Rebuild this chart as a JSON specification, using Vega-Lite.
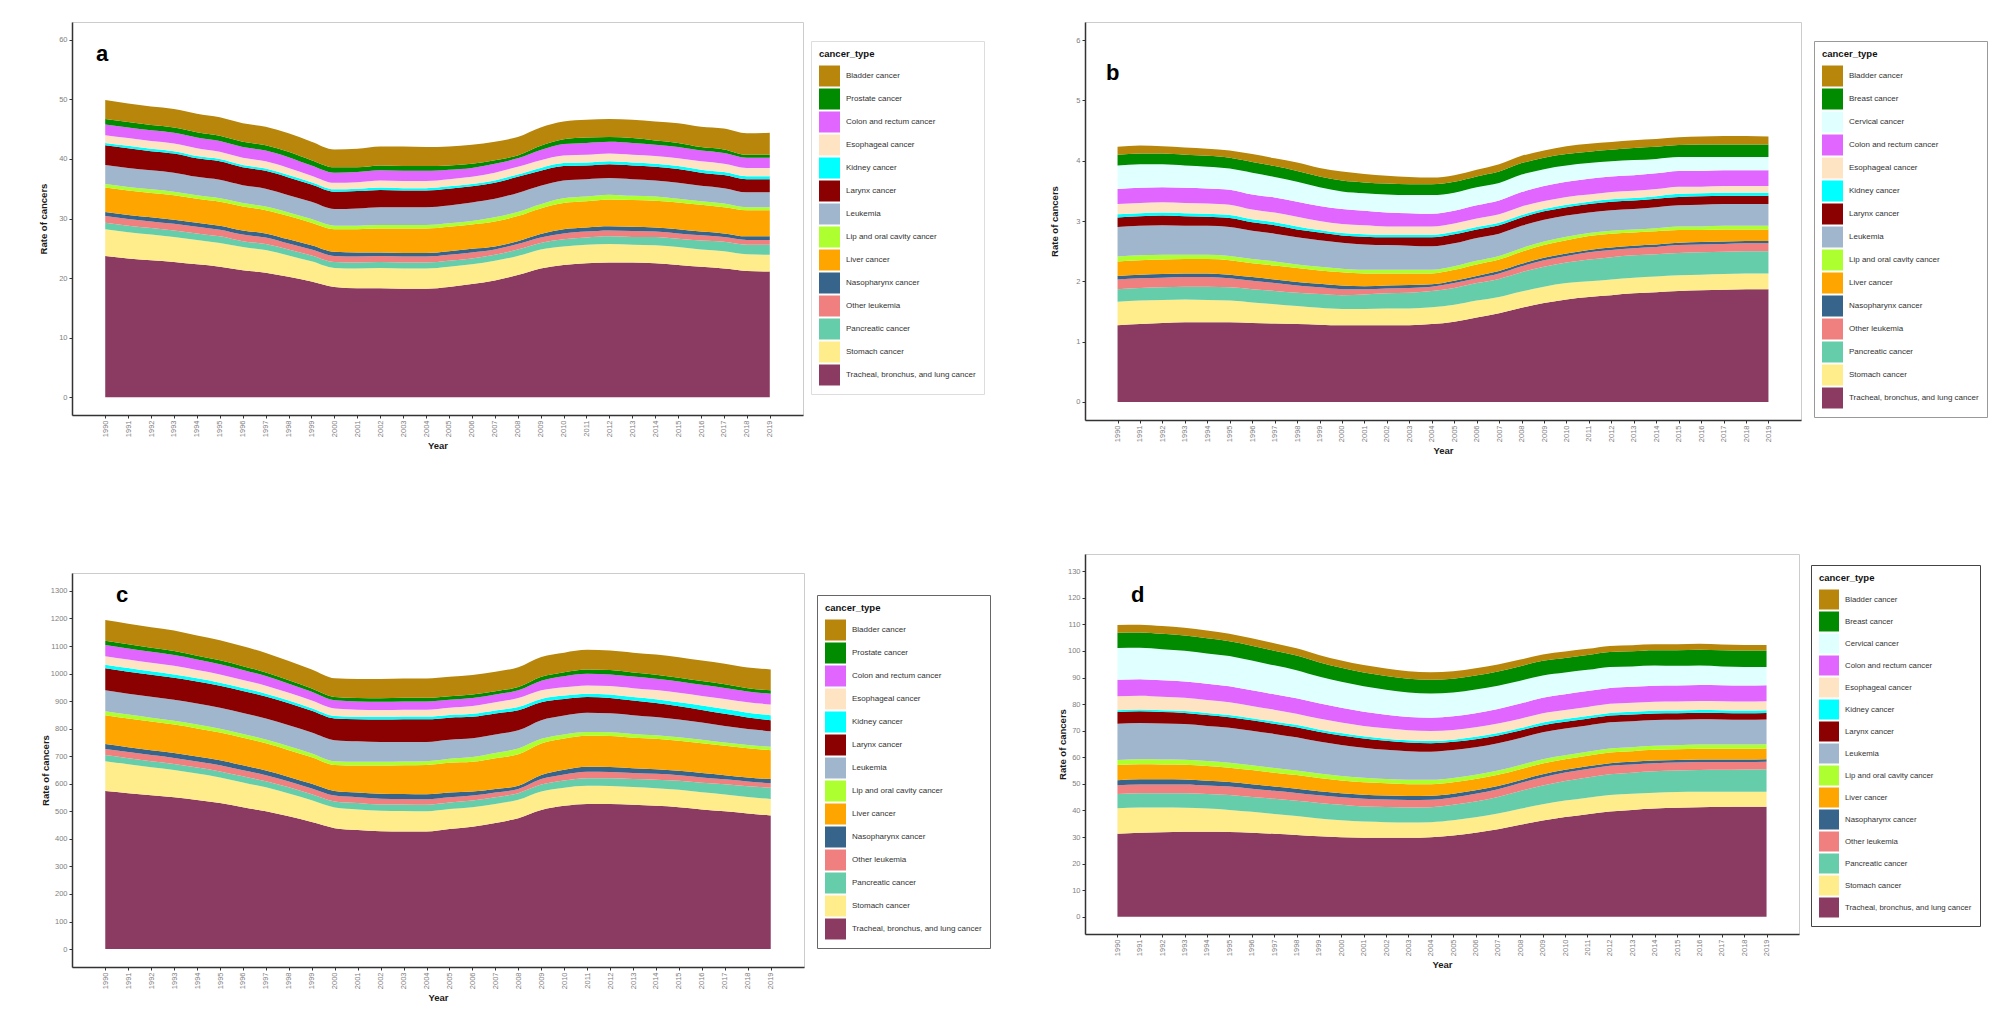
{
"$schema": "https://vega.github.io/schema/vega-lite/v6.json",
"background": "white",
"padding": {"left": 37, "top": 21, "right": 5, "bottom": 5},
"datasets": {
"types": [
{"code":"BL","cancer_type":"Bladder cancer","k":0},
{"code":"PR","cancer_type":"  Prostate cancer","k":1},
{"code":"BR","cancer_type":"Breast cancer","k":2},
{"code":"CE","cancer_type":"Cervical cancer","k":3},
{"code":"CO","cancer_type":"Colon and rectum cancer","k":4},
{"code":"ES","cancer_type":"Esophageal cancer","k":5},
{"code":"KI","cancer_type":"Kidney cancer","k":6},
{"code":"LA","cancer_type":"Larynx cancer","k":7},
{"code":"LE","cancer_type":"Leukemia","k":8},
{"code":"LP","cancer_type":"Lip and oral cavity cancer","k":9},
{"code":"LI","cancer_type":"Liver cancer","k":10},
{"code":"NA","cancer_type":"Nasopharynx cancer","k":11},
{"code":"OL","cancer_type":"Other leukemia","k":12},
{"code":"PA","cancer_type":"Pancreatic cancer","k":13},
{"code":"ST","cancer_type":"Stomach cancer","k":14},
{"code":"TR","cancer_type":"Tracheal, bronchus, and lung cancer","k":15}
],
"a": [
{"year":1990,"TR":23.7,"ST":4.5,"PA":1.1,"OL":1.1,"NA":0.7,"LI":4.1,"LP":0.6,"LE":3.2,"LA":3.3,"KI":0.4,"ES":1.3,"CO":1.8,"PR":0.9,"BL":3.2},
{"year":1991,"TR":23.3,"ST":4.4,"PA":1.1,"OL":1.1,"NA":0.7,"LI":4.1,"LP":0.6,"LE":3.2,"LA":3.3,"KI":0.4,"ES":1.3,"CO":1.8,"PR":0.9,"BL":3.1},
{"year":1992,"TR":23.0,"ST":4.3,"PA":1.1,"OL":1.1,"NA":0.7,"LI":4.1,"LP":0.6,"LE":3.2,"LA":3.2,"KI":0.4,"ES":1.3,"CO":1.8,"PR":0.9,"BL":3.1},
{"year":1993,"TR":22.7,"ST":4.2,"PA":1.1,"OL":1.1,"NA":0.7,"LI":4.1,"LP":0.6,"LE":3.2,"LA":3.2,"KI":0.4,"ES":1.3,"CO":1.8,"PR":0.9,"BL":3.1},
{"year":1994,"TR":22.3,"ST":4.1,"PA":1.1,"OL":1.1,"NA":0.7,"LI":4.0,"LP":0.6,"LE":3.1,"LA":3.1,"KI":0.4,"ES":1.3,"CO":1.8,"PR":0.9,"BL":3.1},
{"year":1995,"TR":21.9,"ST":4.0,"PA":1.1,"OL":1.1,"NA":0.7,"LI":4.0,"LP":0.6,"LE":3.1,"LA":3.1,"KI":0.4,"ES":1.2,"CO":1.8,"PR":0.9,"BL":3.1},
{"year":1996,"TR":21.3,"ST":3.9,"PA":1.0,"OL":1.1,"NA":0.7,"LI":4.0,"LP":0.6,"LE":3.0,"LA":3.0,"KI":0.4,"ES":1.2,"CO":1.8,"PR":0.9,"BL":3.1},
{"year":1997,"TR":20.9,"ST":3.8,"PA":1.0,"OL":1.1,"NA":0.7,"LI":3.9,"LP":0.6,"LE":3.0,"LA":3.0,"KI":0.4,"ES":1.2,"CO":1.8,"PR":0.9,"BL":3.1},
{"year":1998,"TR":20.2,"ST":3.6,"PA":1.0,"OL":1.0,"NA":0.7,"LI":3.9,"LP":0.6,"LE":2.9,"LA":3.0,"KI":0.4,"ES":1.2,"CO":1.8,"PR":0.9,"BL":3.1},
{"year":1999,"TR":19.4,"ST":3.4,"PA":1.0,"OL":1.0,"NA":0.7,"LI":3.8,"LP":0.6,"LE":2.9,"LA":2.9,"KI":0.4,"ES":1.1,"CO":1.7,"PR":0.9,"BL":3.1},
{"year":2000,"TR":18.5,"ST":3.2,"PA":1.0,"OL":1.0,"NA":0.7,"LI":3.8,"LP":0.6,"LE":2.8,"LA":2.9,"KI":0.4,"ES":1.1,"CO":1.7,"PR":0.9,"BL":3.0},
{"year":2001,"TR":18.3,"ST":3.3,"PA":1.0,"OL":1.0,"NA":0.7,"LI":3.9,"LP":0.6,"LE":2.9,"LA":2.9,"KI":0.4,"ES":1.1,"CO":1.7,"PR":0.8,"BL":3.1},
{"year":2002,"TR":18.3,"ST":3.4,"PA":1.0,"OL":1.0,"NA":0.6,"LI":4.0,"LP":0.6,"LE":3.0,"LA":2.9,"KI":0.4,"ES":1.2,"CO":1.7,"PR":0.8,"BL":3.2},
{"year":2003,"TR":18.2,"ST":3.4,"PA":1.0,"OL":1.0,"NA":0.6,"LI":4.1,"LP":0.6,"LE":3.0,"LA":2.8,"KI":0.4,"ES":1.2,"CO":1.7,"PR":0.8,"BL":3.3},
{"year":2004,"TR":18.2,"ST":3.4,"PA":1.0,"OL":1.0,"NA":0.6,"LI":4.1,"LP":0.6,"LE":3.0,"LA":2.8,"KI":0.4,"ES":1.2,"CO":1.7,"PR":0.8,"BL":3.2},
{"year":2005,"TR":18.5,"ST":3.4,"PA":1.0,"OL":1.0,"NA":0.6,"LI":4.1,"LP":0.6,"LE":3.0,"LA":2.8,"KI":0.4,"ES":1.2,"CO":1.6,"PR":0.7,"BL":3.2},
{"year":2006,"TR":19.0,"ST":3.3,"PA":1.0,"OL":1.0,"NA":0.6,"LI":4.1,"LP":0.6,"LE":3.1,"LA":2.7,"KI":0.4,"ES":1.2,"CO":1.5,"PR":0.7,"BL":3.2},
{"year":2007,"TR":19.6,"ST":3.3,"PA":1.0,"OL":0.9,"NA":0.5,"LI":4.2,"LP":0.7,"LE":3.1,"LA":2.7,"KI":0.4,"ES":1.3,"CO":1.5,"PR":0.6,"BL":3.1},
{"year":2008,"TR":20.5,"ST":3.2,"PA":1.1,"OL":0.9,"NA":0.5,"LI":4.2,"LP":0.7,"LE":3.2,"LA":2.7,"KI":0.4,"ES":1.3,"CO":1.4,"PR":0.5,"BL":3.1},
{"year":2009,"TR":21.6,"ST":3.2,"PA":1.1,"OL":0.9,"NA":0.6,"LI":4.3,"LP":0.7,"LE":3.1,"LA":2.5,"KI":0.5,"ES":1.3,"CO":1.7,"PR":0.7,"BL":3.1},
{"year":2010,"TR":22.2,"ST":3.1,"PA":1.2,"OL":1.0,"NA":0.7,"LI":4.4,"LP":0.8,"LE":3.0,"LA":2.4,"KI":0.5,"ES":1.3,"CO":1.9,"PR":0.8,"BL":3.0},
{"year":2011,"TR":22.5,"ST":3.1,"PA":1.2,"OL":1.0,"NA":0.7,"LI":4.4,"LP":0.8,"LE":2.9,"LA":2.3,"KI":0.5,"ES":1.3,"CO":2.0,"PR":0.9,"BL":3.0},
{"year":2012,"TR":22.6,"ST":3.1,"PA":1.3,"OL":1.0,"NA":0.7,"LI":4.5,"LP":0.8,"LE":2.8,"LA":2.3,"KI":0.5,"ES":1.3,"CO":2.0,"PR":0.8,"BL":3.0},
{"year":2013,"TR":22.6,"ST":3.0,"PA":1.3,"OL":1.0,"NA":0.7,"LI":4.5,"LP":0.7,"LE":2.8,"LA":2.3,"KI":0.5,"ES":1.3,"CO":2.0,"PR":0.8,"BL":3.1},
{"year":2014,"TR":22.5,"ST":3.0,"PA":1.4,"OL":0.9,"NA":0.7,"LI":4.5,"LP":0.7,"LE":2.7,"LA":2.3,"KI":0.5,"ES":1.3,"CO":1.9,"PR":0.7,"BL":3.2},
{"year":2015,"TR":22.2,"ST":3.0,"PA":1.4,"OL":0.9,"NA":0.7,"LI":4.5,"LP":0.6,"LE":2.7,"LA":2.3,"KI":0.5,"ES":1.3,"CO":1.9,"PR":0.7,"BL":3.3},
{"year":2016,"TR":21.9,"ST":2.9,"PA":1.5,"OL":0.9,"NA":0.6,"LI":4.5,"LP":0.6,"LE":2.6,"LA":2.2,"KI":0.5,"ES":1.4,"CO":1.8,"PR":0.6,"BL":3.4},
{"year":2017,"TR":21.6,"ST":2.9,"PA":1.6,"OL":0.8,"NA":0.6,"LI":4.4,"LP":0.6,"LE":2.6,"LA":2.2,"KI":0.5,"ES":1.4,"CO":1.8,"PR":0.6,"BL":3.5},
{"year":2018,"TR":21.2,"ST":2.8,"PA":1.6,"OL":0.8,"NA":0.6,"LI":4.4,"LP":0.5,"LE":2.5,"LA":2.2,"KI":0.5,"ES":1.4,"CO":1.7,"PR":0.5,"BL":3.6},
{"year":2019,"TR":21.1,"ST":2.8,"PA":1.7,"OL":0.8,"NA":0.6,"LI":4.4,"LP":0.5,"LE":2.5,"LA":2.2,"KI":0.5,"ES":1.4,"CO":1.7,"PR":0.5,"BL":3.7}
],
"b": [
{"year":1990,"TR":1.27,"ST":0.39,"PA":0.21,"OL":0.16,"NA":0.06,"LI":0.24,"LP":0.08,"LE":0.49,"LA":0.16,"KI":0.05,"ES":0.17,"CO":0.25,"CE":0.39,"BR":0.18,"BL":0.13},
{"year":1991,"TR":1.29,"ST":0.39,"PA":0.21,"OL":0.16,"NA":0.06,"LI":0.24,"LP":0.08,"LE":0.49,"LA":0.16,"KI":0.05,"ES":0.17,"CO":0.25,"CE":0.39,"BR":0.18,"BL":0.13},
{"year":1992,"TR":1.31,"ST":0.38,"PA":0.21,"OL":0.16,"NA":0.06,"LI":0.24,"LP":0.08,"LE":0.49,"LA":0.16,"KI":0.05,"ES":0.17,"CO":0.25,"CE":0.38,"BR":0.18,"BL":0.12},
{"year":1993,"TR":1.32,"ST":0.38,"PA":0.21,"OL":0.16,"NA":0.06,"LI":0.24,"LP":0.07,"LE":0.48,"LA":0.16,"KI":0.05,"ES":0.17,"CO":0.25,"CE":0.37,"BR":0.18,"BL":0.12},
{"year":1994,"TR":1.32,"ST":0.37,"PA":0.22,"OL":0.16,"NA":0.06,"LI":0.24,"LP":0.07,"LE":0.48,"LA":0.15,"KI":0.05,"ES":0.17,"CO":0.25,"CE":0.36,"BR":0.18,"BL":0.12},
{"year":1995,"TR":1.32,"ST":0.36,"PA":0.22,"OL":0.15,"NA":0.06,"LI":0.24,"LP":0.07,"LE":0.48,"LA":0.15,"KI":0.05,"ES":0.17,"CO":0.25,"CE":0.35,"BR":0.18,"BL":0.12},
{"year":1996,"TR":1.31,"ST":0.34,"PA":0.22,"OL":0.14,"NA":0.06,"LI":0.23,"LP":0.07,"LE":0.47,"LA":0.14,"KI":0.05,"ES":0.16,"CO":0.25,"CE":0.36,"BR":0.18,"BL":0.13},
{"year":1997,"TR":1.30,"ST":0.32,"PA":0.22,"OL":0.13,"NA":0.06,"LI":0.23,"LP":0.07,"LE":0.46,"LA":0.14,"KI":0.05,"ES":0.16,"CO":0.25,"CE":0.34,"BR":0.18,"BL":0.13},
{"year":1998,"TR":1.29,"ST":0.30,"PA":0.22,"OL":0.12,"NA":0.06,"LI":0.23,"LP":0.06,"LE":0.45,"LA":0.13,"KI":0.05,"ES":0.16,"CO":0.25,"CE":0.33,"BR":0.18,"BL":0.14},
{"year":1999,"TR":1.28,"ST":0.28,"PA":0.23,"OL":0.11,"NA":0.06,"LI":0.22,"LP":0.06,"LE":0.44,"LA":0.13,"KI":0.04,"ES":0.15,"CO":0.25,"CE":0.31,"BR":0.18,"BL":0.14},
{"year":2000,"TR":1.27,"ST":0.27,"PA":0.23,"OL":0.10,"NA":0.06,"LI":0.22,"LP":0.06,"LE":0.43,"LA":0.12,"KI":0.04,"ES":0.15,"CO":0.25,"CE":0.29,"BR":0.18,"BL":0.15},
{"year":2001,"TR":1.27,"ST":0.27,"PA":0.24,"OL":0.09,"NA":0.05,"LI":0.21,"LP":0.06,"LE":0.42,"LA":0.13,"KI":0.04,"ES":0.15,"CO":0.24,"CE":0.29,"BR":0.18,"BL":0.14},
{"year":2002,"TR":1.27,"ST":0.28,"PA":0.25,"OL":0.08,"NA":0.05,"LI":0.20,"LP":0.06,"LE":0.41,"LA":0.13,"KI":0.04,"ES":0.14,"CO":0.23,"CE":0.30,"BR":0.18,"BL":0.13},
{"year":2003,"TR":1.27,"ST":0.28,"PA":0.26,"OL":0.08,"NA":0.05,"LI":0.19,"LP":0.06,"LE":0.40,"LA":0.14,"KI":0.04,"ES":0.14,"CO":0.22,"CE":0.30,"BR":0.18,"BL":0.12},
{"year":2004,"TR":1.29,"ST":0.28,"PA":0.27,"OL":0.07,"NA":0.04,"LI":0.18,"LP":0.06,"LE":0.39,"LA":0.15,"KI":0.04,"ES":0.14,"CO":0.21,"CE":0.31,"BR":0.18,"BL":0.11},
{"year":2005,"TR":1.33,"ST":0.28,"PA":0.28,"OL":0.08,"NA":0.04,"LI":0.18,"LP":0.06,"LE":0.38,"LA":0.15,"KI":0.04,"ES":0.14,"CO":0.21,"CE":0.30,"BR":0.18,"BL":0.11},
{"year":2006,"TR":1.40,"ST":0.28,"PA":0.29,"OL":0.08,"NA":0.04,"LI":0.19,"LP":0.06,"LE":0.38,"LA":0.14,"KI":0.04,"ES":0.14,"CO":0.22,"CE":0.30,"BR":0.18,"BL":0.11},
{"year":2007,"TR":1.47,"ST":0.27,"PA":0.30,"OL":0.09,"NA":0.04,"LI":0.19,"LP":0.06,"LE":0.37,"LA":0.14,"KI":0.04,"ES":0.14,"CO":0.23,"CE":0.29,"BR":0.19,"BL":0.12},
{"year":2008,"TR":1.56,"ST":0.27,"PA":0.32,"OL":0.10,"NA":0.04,"LI":0.20,"LP":0.06,"LE":0.37,"LA":0.14,"KI":0.04,"ES":0.14,"CO":0.24,"CE":0.29,"BR":0.19,"BL":0.12},
{"year":2009,"TR":1.64,"ST":0.27,"PA":0.33,"OL":0.11,"NA":0.04,"LI":0.21,"LP":0.06,"LE":0.36,"LA":0.14,"KI":0.04,"ES":0.13,"CO":0.25,"CE":0.28,"BR":0.19,"BL":0.12},
{"year":2010,"TR":1.70,"ST":0.27,"PA":0.34,"OL":0.11,"NA":0.04,"LI":0.22,"LP":0.06,"LE":0.35,"LA":0.14,"KI":0.04,"ES":0.13,"CO":0.25,"CE":0.27,"BR":0.19,"BL":0.13},
{"year":2011,"TR":1.74,"ST":0.26,"PA":0.36,"OL":0.12,"NA":0.04,"LI":0.23,"LP":0.05,"LE":0.34,"LA":0.14,"KI":0.04,"ES":0.12,"CO":0.26,"CE":0.26,"BR":0.19,"BL":0.13},
{"year":2012,"TR":1.77,"ST":0.26,"PA":0.37,"OL":0.12,"NA":0.04,"LI":0.23,"LP":0.05,"LE":0.34,"LA":0.14,"KI":0.04,"ES":0.12,"CO":0.26,"CE":0.25,"BR":0.19,"BL":0.13},
{"year":2013,"TR":1.80,"ST":0.26,"PA":0.37,"OL":0.12,"NA":0.04,"LI":0.22,"LP":0.05,"LE":0.34,"LA":0.14,"KI":0.04,"ES":0.12,"CO":0.26,"CE":0.25,"BR":0.20,"BL":0.13},
{"year":2014,"TR":1.82,"ST":0.26,"PA":0.37,"OL":0.12,"NA":0.04,"LI":0.22,"LP":0.05,"LE":0.35,"LA":0.14,"KI":0.04,"ES":0.12,"CO":0.26,"CE":0.24,"BR":0.20,"BL":0.13},
{"year":2015,"TR":1.84,"ST":0.26,"PA":0.37,"OL":0.13,"NA":0.04,"LI":0.21,"LP":0.06,"LE":0.35,"LA":0.14,"KI":0.05,"ES":0.12,"CO":0.26,"CE":0.23,"BR":0.20,"BL":0.13},
{"year":2016,"TR":1.85,"ST":0.26,"PA":0.37,"OL":0.13,"NA":0.04,"LI":0.20,"LP":0.06,"LE":0.36,"LA":0.14,"KI":0.05,"ES":0.11,"CO":0.26,"CE":0.23,"BR":0.21,"BL":0.13},
{"year":2017,"TR":1.86,"ST":0.26,"PA":0.37,"OL":0.13,"NA":0.04,"LI":0.20,"LP":0.06,"LE":0.36,"LA":0.14,"KI":0.05,"ES":0.11,"CO":0.26,"CE":0.22,"BR":0.21,"BL":0.14},
{"year":2018,"TR":1.87,"ST":0.26,"PA":0.37,"OL":0.13,"NA":0.04,"LI":0.19,"LP":0.06,"LE":0.36,"LA":0.14,"KI":0.05,"ES":0.11,"CO":0.26,"CE":0.22,"BR":0.21,"BL":0.14},
{"year":2019,"TR":1.87,"ST":0.26,"PA":0.37,"OL":0.13,"NA":0.04,"LI":0.19,"LP":0.06,"LE":0.36,"LA":0.14,"KI":0.05,"ES":0.11,"CO":0.26,"CE":0.22,"BR":0.21,"BL":0.13}
],
"c": [
{"year":1990,"TR":574,"ST":108,"PA":22,"OL":22,"NA":18,"LI":105,"LP":14,"LE":76,"LA":80,"KI":13,"ES":31,"CO":41,"PR":15,"BL":75},
{"year":1991,"TR":566,"ST":105,"PA":22,"OL":22,"NA":18,"LI":104,"LP":14,"LE":76,"LA":80,"KI":13,"ES":31,"CO":40,"PR":15,"BL":75},
{"year":1992,"TR":558,"ST":102,"PA":22,"OL":22,"NA":18,"LI":104,"LP":14,"LE":76,"LA":80,"KI":12,"ES":31,"CO":40,"PR":15,"BL":74},
{"year":1993,"TR":551,"ST":99,"PA":22,"OL":22,"NA":18,"LI":103,"LP":14,"LE":76,"LA":80,"KI":12,"ES":31,"CO":39,"PR":15,"BL":74},
{"year":1994,"TR":541,"ST":96,"PA":22,"OL":22,"NA":18,"LI":102,"LP":14,"LE":76,"LA":80,"KI":12,"ES":30,"CO":38,"PR":14,"BL":73},
{"year":1995,"TR":530,"ST":93,"PA":22,"OL":22,"NA":18,"LI":101,"LP":14,"LE":76,"LA":80,"KI":11,"ES":30,"CO":37,"PR":14,"BL":73},
{"year":1996,"TR":515,"ST":90,"PA":22,"OL":22,"NA":18,"LI":100,"LP":14,"LE":76,"LA":80,"KI":11,"ES":29,"CO":36,"PR":14,"BL":72},
{"year":1997,"TR":500,"ST":87,"PA":22,"OL":22,"NA":17,"LI":99,"LP":14,"LE":76,"LA":80,"KI":10,"ES":29,"CO":35,"PR":13,"BL":71},
{"year":1998,"TR":482,"ST":83,"PA":22,"OL":21,"NA":17,"LI":97,"LP":14,"LE":76,"LA":80,"KI":10,"ES":28,"CO":33,"PR":13,"BL":70},
{"year":1999,"TR":461,"ST":79,"PA":22,"OL":21,"NA":17,"LI":96,"LP":14,"LE":76,"LA":79,"KI":9,"ES":28,"CO":32,"PR":12,"BL":69},
{"year":2000,"TR":439,"ST":75,"PA":22,"OL":21,"NA":17,"LI":94,"LP":14,"LE":76,"LA":79,"KI":9,"ES":27,"CO":30,"PR":12,"BL":68},
{"year":2001,"TR":432,"ST":75,"PA":23,"OL":21,"NA":17,"LI":98,"LP":14,"LE":74,"LA":80,"KI":9,"ES":26,"CO":30,"PR":12,"BL":69},
{"year":2002,"TR":428,"ST":74,"PA":23,"OL":21,"NA":18,"LI":102,"LP":14,"LE":72,"LA":81,"KI":10,"ES":25,"CO":30,"PR":12,"BL":70},
{"year":2003,"TR":427,"ST":74,"PA":24,"OL":20,"NA":18,"LI":104,"LP":14,"LE":71,"LA":82,"KI":10,"ES":25,"CO":30,"PR":13,"BL":70},
{"year":2004,"TR":427,"ST":73,"PA":24,"OL":20,"NA":18,"LI":106,"LP":14,"LE":70,"LA":82,"KI":10,"ES":25,"CO":30,"PR":13,"BL":70},
{"year":2005,"TR":436,"ST":72,"PA":24,"OL":19,"NA":17,"LI":108,"LP":15,"LE":69,"LA":80,"KI":10,"ES":26,"CO":29,"PR":13,"BL":70},
{"year":2006,"TR":444,"ST":71,"PA":24,"OL":18,"NA":15,"LI":108,"LP":17,"LE":68,"LA":78,"KI":11,"ES":28,"CO":29,"PR":13,"BL":71},
{"year":2007,"TR":458,"ST":69,"PA":24,"OL":17,"NA":13,"LI":112,"LP":19,"LE":67,"LA":76,"KI":11,"ES":30,"CO":28,"PR":12,"BL":71},
{"year":2008,"TR":475,"ST":67,"PA":24,"OL":15,"NA":12,"LI":114,"LP":21,"LE":66,"LA":73,"KI":12,"ES":32,"CO":28,"PR":12,"BL":72},
{"year":2009,"TR":505,"ST":67,"PA":25,"OL":20,"NA":15,"LI":114,"LP":17,"LE":68,"LA":65,"KI":12,"ES":31,"CO":35,"PR":14,"BL":72},
{"year":2010,"TR":520,"ST":66,"PA":26,"OL":22,"NA":17,"LI":113,"LP":15,"LE":69,"LA":60,"KI":12,"ES":30,"CO":40,"PR":15,"BL":71},
{"year":2011,"TR":527,"ST":66,"PA":27,"OL":24,"NA":18,"LI":112,"LP":14,"LE":70,"LA":57,"KI":12,"ES":30,"CO":42,"PR":16,"BL":71},
{"year":2012,"TR":527,"ST":65,"PA":28,"OL":23,"NA":18,"LI":112,"LP":14,"LE":69,"LA":55,"KI":13,"ES":31,"CO":42,"PR":16,"BL":71},
{"year":2013,"TR":524,"ST":64,"PA":29,"OL":22,"NA":17,"LI":111,"LP":14,"LE":68,"LA":53,"KI":13,"ES":32,"CO":42,"PR":15,"BL":72},
{"year":2014,"TR":520,"ST":64,"PA":31,"OL":21,"NA":17,"LI":110,"LP":13,"LE":66,"LA":51,"KI":14,"ES":33,"CO":41,"PR":15,"BL":73},
{"year":2015,"TR":515,"ST":63,"PA":33,"OL":20,"NA":16,"LI":109,"LP":13,"LE":64,"LA":48,"KI":15,"ES":34,"CO":41,"PR":14,"BL":74},
{"year":2016,"TR":507,"ST":62,"PA":35,"OL":19,"NA":16,"LI":108,"LP":13,"LE":62,"LA":46,"KI":16,"ES":35,"CO":40,"PR":14,"BL":74},
{"year":2017,"TR":500,"ST":61,"PA":37,"OL":18,"NA":15,"LI":107,"LP":12,"LE":60,"LA":44,"KI":17,"ES":37,"CO":40,"PR":13,"BL":75},
{"year":2018,"TR":492,"ST":60,"PA":39,"OL":17,"NA":15,"LI":106,"LP":12,"LE":58,"LA":42,"KI":17,"ES":38,"CO":39,"PR":12,"BL":75},
{"year":2019,"TR":485,"ST":60,"PA":41,"OL":16,"NA":15,"LI":105,"LP":12,"LE":57,"LA":40,"KI":18,"ES":39,"CO":39,"PR":12,"BL":76}
],
"d": [
{"year":1990,"TR":31.2,"ST":9.6,"PA":5.4,"OL":3.3,"NA":1.9,"LI":5.7,"LP":1.9,"LE":13.6,"LA":4.4,"KI":0.7,"ES":5.3,"CO":6.2,"CE":11.9,"BR":5.8,"BL":2.9},
{"year":1991,"TR":31.6,"ST":9.5,"PA":5.4,"OL":3.3,"NA":1.9,"LI":5.7,"LP":1.9,"LE":13.6,"LA":4.4,"KI":0.7,"ES":5.2,"CO":6.2,"CE":11.8,"BR":5.8,"BL":2.9},
{"year":1992,"TR":31.8,"ST":9.3,"PA":5.4,"OL":3.3,"NA":1.9,"LI":5.6,"LP":1.9,"LE":13.5,"LA":4.3,"KI":0.7,"ES":5.1,"CO":6.2,"CE":11.7,"BR":5.8,"BL":2.9},
{"year":1993,"TR":32.0,"ST":9.0,"PA":5.5,"OL":3.3,"NA":1.8,"LI":5.6,"LP":1.9,"LE":13.4,"LA":4.2,"KI":0.7,"ES":5.0,"CO":6.1,"CE":11.6,"BR":5.7,"BL":2.9},
{"year":1994,"TR":32.0,"ST":8.7,"PA":5.5,"OL":3.2,"NA":1.8,"LI":5.5,"LP":1.9,"LE":13.2,"LA":4.1,"KI":0.8,"ES":4.9,"CO":6.1,"CE":11.4,"BR":5.7,"BL":2.9},
{"year":1995,"TR":31.9,"ST":8.3,"PA":5.6,"OL":3.2,"NA":1.7,"LI":5.4,"LP":1.8,"LE":13.2,"LA":4.0,"KI":0.8,"ES":4.8,"CO":6.0,"CE":11.4,"BR":5.6,"BL":2.8},
{"year":1996,"TR":31.6,"ST":7.9,"PA":5.6,"OL":3.1,"NA":1.7,"LI":5.3,"LP":1.8,"LE":13.0,"LA":3.9,"KI":0.8,"ES":4.6,"CO":5.9,"CE":11.2,"BR":5.6,"BL":2.8},
{"year":1997,"TR":31.2,"ST":7.5,"PA":5.7,"OL":3.0,"NA":1.6,"LI":5.2,"LP":1.8,"LE":12.8,"LA":3.8,"KI":0.9,"ES":4.4,"CO":5.8,"CE":10.9,"BR":5.5,"BL":2.8},
{"year":1998,"TR":30.8,"ST":7.1,"PA":5.7,"OL":3.0,"NA":1.6,"LI":5.1,"LP":1.7,"LE":12.5,"LA":3.8,"KI":0.9,"ES":4.2,"CO":5.8,"CE":10.6,"BR":5.5,"BL":2.7},
{"year":1999,"TR":30.3,"ST":6.7,"PA":5.8,"OL":2.9,"NA":1.5,"LI":5.0,"LP":1.7,"LE":12.0,"LA":3.7,"KI":0.9,"ES":4.1,"CO":5.7,"CE":10.1,"BR":5.4,"BL":2.7},
{"year":2000,"TR":29.9,"ST":6.4,"PA":5.8,"OL":2.9,"NA":1.5,"LI":4.8,"LP":1.7,"LE":11.6,"LA":3.6,"KI":0.9,"ES":4.0,"CO":5.5,"CE":9.8,"BR":5.3,"BL":2.7},
{"year":2001,"TR":29.7,"ST":6.1,"PA":5.7,"OL":2.9,"NA":1.5,"LI":4.7,"LP":1.7,"LE":11.3,"LA":3.5,"KI":0.8,"ES":3.9,"CO":5.3,"CE":9.6,"BR":5.2,"BL":2.8},
{"year":2002,"TR":29.7,"ST":5.9,"PA":5.7,"OL":2.8,"NA":1.5,"LI":4.6,"LP":1.6,"LE":11.0,"LA":3.4,"KI":0.8,"ES":3.9,"CO":5.1,"CE":9.4,"BR":5.2,"BL":2.8},
{"year":2003,"TR":29.7,"ST":5.8,"PA":5.6,"OL":2.8,"NA":1.5,"LI":4.5,"LP":1.6,"LE":10.8,"LA":3.3,"KI":0.8,"ES":3.8,"CO":5.0,"CE":9.2,"BR":5.2,"BL":2.8},
{"year":2004,"TR":29.9,"ST":5.7,"PA":5.6,"OL":2.8,"NA":1.5,"LI":4.4,"LP":1.6,"LE":10.6,"LA":3.2,"KI":0.8,"ES":3.8,"CO":5.0,"CE":9.1,"BR":5.2,"BL":2.8},
{"year":2005,"TR":30.6,"ST":5.7,"PA":5.8,"OL":2.8,"NA":1.4,"LI":4.3,"LP":1.6,"LE":10.5,"LA":3.1,"KI":0.8,"ES":3.7,"CO":5.1,"CE":9.0,"BR":5.2,"BL":2.8},
{"year":2006,"TR":31.6,"ST":5.8,"PA":6.0,"OL":2.9,"NA":1.3,"LI":4.2,"LP":1.6,"LE":10.4,"LA":3.0,"KI":0.9,"ES":3.6,"CO":5.3,"CE":8.9,"BR":5.3,"BL":2.7},
{"year":2007,"TR":32.9,"ST":5.9,"PA":6.3,"OL":2.9,"NA":1.2,"LI":4.2,"LP":1.6,"LE":10.3,"LA":2.9,"KI":0.9,"ES":3.6,"CO":5.5,"CE":8.7,"BR":5.4,"BL":2.6},
{"year":2008,"TR":34.6,"ST":6.0,"PA":6.7,"OL":3.0,"NA":1.1,"LI":4.1,"LP":1.6,"LE":10.2,"LA":2.8,"KI":0.9,"ES":3.5,"CO":5.7,"CE":8.6,"BR":5.5,"BL":2.5},
{"year":2009,"TR":36.2,"ST":6.1,"PA":7.1,"OL":3.1,"NA":1.1,"LI":4.1,"LP":1.6,"LE":10.1,"LA":2.7,"KI":1.0,"ES":3.5,"CO":5.8,"CE":8.4,"BR":5.5,"BL":2.4},
{"year":2010,"TR":37.5,"ST":6.2,"PA":7.4,"OL":3.2,"NA":1.0,"LI":4.0,"LP":1.5,"LE":10.0,"LA":2.6,"KI":1.0,"ES":3.4,"CO":5.9,"CE":8.2,"BR":5.5,"BL":2.4},
{"year":2011,"TR":38.6,"ST":6.2,"PA":7.6,"OL":3.2,"NA":1.0,"LI":4.0,"LP":1.5,"LE":9.9,"LA":2.5,"KI":1.0,"ES":3.4,"CO":6.0,"CE":8.0,"BR":5.6,"BL":2.3},
{"year":2012,"TR":39.6,"ST":6.2,"PA":7.8,"OL":3.2,"NA":1.0,"LI":4.0,"LP":1.5,"LE":9.9,"LA":2.5,"KI":1.0,"ES":3.4,"CO":6.0,"CE":7.9,"BR":5.6,"BL":2.3},
{"year":2013,"TR":40.2,"ST":6.1,"PA":7.9,"OL":3.1,"NA":1.0,"LI":4.0,"LP":1.5,"LE":9.8,"LA":2.5,"KI":1.0,"ES":3.4,"CO":6.0,"CE":7.7,"BR":5.7,"BL":2.3},
{"year":2014,"TR":40.7,"ST":6.0,"PA":8.0,"OL":3.1,"NA":1.0,"LI":4.0,"LP":1.5,"LE":9.7,"LA":2.5,"KI":1.0,"ES":3.4,"CO":6.0,"CE":7.6,"BR":5.8,"BL":2.2},
{"year":2015,"TR":41.0,"ST":5.9,"PA":8.1,"OL":3.0,"NA":1.0,"LI":4.0,"LP":1.5,"LE":9.6,"LA":2.5,"KI":1.0,"ES":3.4,"CO":6.0,"CE":7.4,"BR":5.9,"BL":2.2},
{"year":2016,"TR":41.2,"ST":5.8,"PA":8.2,"OL":3.0,"NA":1.0,"LI":4.0,"LP":1.6,"LE":9.5,"LA":2.5,"KI":1.0,"ES":3.4,"CO":6.0,"CE":7.3,"BR":6.0,"BL":2.2},
{"year":2017,"TR":41.3,"ST":5.7,"PA":8.3,"OL":2.9,"NA":1.0,"LI":4.0,"LP":1.6,"LE":9.4,"LA":2.5,"KI":1.0,"ES":3.4,"CO":6.0,"CE":7.1,"BR":6.1,"BL":2.1},
{"year":2018,"TR":41.4,"ST":5.6,"PA":8.4,"OL":2.8,"NA":1.0,"LI":4.0,"LP":1.6,"LE":9.3,"LA":2.5,"KI":1.0,"ES":3.4,"CO":6.0,"CE":7.0,"BR":6.2,"BL":2.1},
{"year":2019,"TR":41.4,"ST":5.6,"PA":8.5,"OL":2.8,"NA":1.0,"LI":4.0,"LP":1.6,"LE":9.3,"LA":2.5,"KI":1.0,"ES":3.4,"CO":6.0,"CE":6.9,"BR":6.2,"BL":2.1}
]
},
"concat": [
{
"concat": [
{
"width": 731, "height": 393,
"layer": [
{"data": {"name": "a"},
"transform": [
{"fold": ["TR","ST","PA","OL","NA","LI","LP","LE","LA","KI","ES","CO","PR","BL"], "as": ["code","rate"]},
{"lookup": "code", "from": {"data": {"name": "types"}, "key": "code", "fields": ["cancer_type","k"]}}
],
"mark": {"type": "area", "interpolate": "monotone"},
"encoding": {
"x": {"field": "year", "type": "quantitative", "scale": {"domain": [1988.55, 2020.45], "nice": false, "zero": false}, "axis": {"title": "Year", "values": [1990,1991,1992,1993,1994,1995,1996,1997,1998,1999,2000,2001,2002,2003,2004,2005,2006,2007,2008,2009,2010,2011,2012,2013,2014,2015,2016,2017,2018,2019], "format": "d"}},
"y": {"field": "rate", "type": "quantitative", "stack": "zero", "scale": {"domain": [-3, 63], "nice": false, "zero": false}, "axis": {"title": "Rate of cancers", "values": [0,10,20,30,40,50,60], "format": "d", "titlePadding": 10.5}},
"color": {"field": "cancer_type", "type": "nominal", "scale": {"domain": ["Bladder cancer","  Prostate cancer","Colon and rectum cancer","Esophageal cancer","Kidney cancer","Larynx cancer","Leukemia","Lip and oral cavity cancer","Liver cancer","Nasopharynx cancer","Other leukemia","Pancreatic cancer","Stomach cancer","Tracheal, bronchus, and lung cancer"], "range": ["#B8860B","#008B00","#E066FF","#FFE4C4","#00FFFF","#8B0000","#9FB6CD","#ADFF2F","#FFA500","#36648B","#F08080","#66CDAA","#FFEC8B","#8B3A62"]}, "legend": {"title": "cancer_type", "orient": "none", "legendX": 739, "legendY": 19, "strokeColor": "#dddddd"}},
"order": {"field": "k", "type": "quantitative", "sort": "descending"}
}},
{"data": {"values": [{"panel": "a"}]},
"mark": {"type": "text", "align": "left", "baseline": "alphabetic", "fontSize": 22, "fontWeight": "bold", "color": "#000000"},
"encoding": {
"x": {"datum": 1989.6, "type": "quantitative", "scale": {"domain": [1988.55, 2020.45], "nice": false, "zero": false}, "axis": {"title": "Year", "values": [1990,1991,1992,1993,1994,1995,1996,1997,1998,1999,2000,2001,2002,2003,2004,2005,2006,2007,2008,2009,2010,2011,2012,2013,2014,2015,2016,2017,2018,2019], "format": "d"}},
"y": {"datum": 56.45, "type": "quantitative", "scale": {"domain": [-3, 63], "nice": false, "zero": false}, "axis": {"title": "Rate of cancers", "values": [0,10,20,30,40,50,60], "format": "d", "titlePadding": 10.5}},
"text": {"field": "panel"}}}
]
},
{
"width": 732, "height": 394,
"layer": [
{"data": {"name": "c"},
"transform": [
{"fold": ["TR","ST","PA","OL","NA","LI","LP","LE","LA","KI","ES","CO","PR","BL"], "as": ["code","rate"]},
{"lookup": "code", "from": {"data": {"name": "types"}, "key": "code", "fields": ["cancer_type","k"]}}
],
"mark": {"type": "area", "interpolate": "monotone"},
"encoding": {
"x": {"field": "year", "type": "quantitative", "scale": {"domain": [1988.55, 2020.45], "nice": false, "zero": false}, "axis": {"title": "Year", "values": [1990,1991,1992,1993,1994,1995,1996,1997,1998,1999,2000,2001,2002,2003,2004,2005,2006,2007,2008,2009,2010,2011,2012,2013,2014,2015,2016,2017,2018,2019], "format": "d"}},
"y": {"field": "rate", "type": "quantitative", "stack": "zero", "scale": {"domain": [-65, 1365], "nice": false, "zero": false}, "axis": {"title": "Rate of cancers", "values": [0,100,200,300,400,500,600,700,800,900,1000,1100,1200,1300], "format": "d", "titlePadding": 0}},
"color": {"field": "cancer_type", "type": "nominal", "scale": {"domain": ["Bladder cancer","  Prostate cancer","Colon and rectum cancer","Esophageal cancer","Kidney cancer","Larynx cancer","Leukemia","Lip and oral cavity cancer","Liver cancer","Nasopharynx cancer","Other leukemia","Pancreatic cancer","Stomach cancer","Tracheal, bronchus, and lung cancer"], "range": ["#B8860B","#008B00","#E066FF","#FFE4C4","#00FFFF","#8B0000","#9FB6CD","#ADFF2F","#FFA500","#36648B","#F08080","#66CDAA","#FFEC8B","#8B3A62"]}, "legend": {"title": "cancer_type", "orient": "none", "legendX": 745, "legendY": 22, "strokeColor": "#666666"}},
"order": {"field": "k", "type": "quantitative", "sort": "descending"}
}},
{"data": {"values": [{"panel": "c"}]},
"mark": {"type": "text", "align": "left", "baseline": "alphabetic", "fontSize": 22, "fontWeight": "bold", "color": "#000000"},
"encoding": {
"x": {"datum": 1990.47, "type": "quantitative", "scale": {"domain": [1988.55, 2020.45], "nice": false, "zero": false}, "axis": {"title": "Year", "values": [1990,1991,1992,1993,1994,1995,1996,1997,1998,1999,2000,2001,2002,2003,2004,2005,2006,2007,2008,2009,2010,2011,2012,2013,2014,2015,2016,2017,2018,2019], "format": "d"}},
"y": {"datum": 1260, "type": "quantitative", "scale": {"domain": [-65, 1365], "nice": false, "zero": false}, "axis": {"title": "Rate of cancers", "values": [0,100,200,300,400,500,600,700,800,900,1000,1100,1200,1300], "format": "d", "titlePadding": 0}},
"text": {"field": "panel"}}}
]
}
],
"columns": 1, "align": "none", "spacing": 121,
"resolve": {"scale": {"color": "independent", "x": "independent", "y": "independent"}, "legend": {"color": "independent"}}
},
{
"concat": [
{
"width": 716, "height": 398,
"layer": [
{"data": {"name": "b"},
"transform": [
{"fold": ["TR","ST","PA","OL","NA","LI","LP","LE","LA","KI","ES","CO","CE","BR","BL"], "as": ["code","rate"]},
{"lookup": "code", "from": {"data": {"name": "types"}, "key": "code", "fields": ["cancer_type","k"]}}
],
"mark": {"type": "area", "interpolate": "monotone"},
"encoding": {
"x": {"field": "year", "type": "quantitative", "scale": {"domain": [1988.55, 2020.45], "nice": false, "zero": false}, "axis": {"title": "Year", "values": [1990,1991,1992,1993,1994,1995,1996,1997,1998,1999,2000,2001,2002,2003,2004,2005,2006,2007,2008,2009,2010,2011,2012,2013,2014,2015,2016,2017,2018,2019], "format": "d"}},
"y": {"field": "rate", "type": "quantitative", "stack": "zero", "scale": {"domain": [-0.3, 6.3], "nice": false, "zero": false}, "axis": {"title": "Rate of cancers", "values": [0,1,2,3,4,5,6], "format": "d", "titlePadding": 16}},
"color": {"field": "cancer_type", "type": "nominal", "scale": {"domain": ["Bladder cancer","Breast cancer","Cervical cancer","Colon and rectum cancer","Esophageal cancer","Kidney cancer","Larynx cancer","Leukemia","Lip and oral cavity cancer","Liver cancer","Nasopharynx cancer","Other leukemia","Pancreatic cancer","Stomach cancer","Tracheal, bronchus, and lung cancer"], "range": ["#B8860B","#008B00","#E0FFFF","#E066FF","#FFE4C4","#00FFFF","#8B0000","#9FB6CD","#ADFF2F","#FFA500","#36648B","#F08080","#66CDAA","#FFEC8B","#8B3A62"]}, "legend": {"title": "cancer_type", "orient": "none", "legendX": 729, "legendY": 19, "strokeColor": "#999999"}},
"order": {"field": "k", "type": "quantitative", "sort": "descending"}
}},
{"data": {"values": [{"panel": "b"}]},
"mark": {"type": "text", "align": "left", "baseline": "alphabetic", "fontSize": 22, "fontWeight": "bold", "color": "#000000"},
"encoding": {
"x": {"datum": 1989.49, "type": "quantitative", "scale": {"domain": [1988.55, 2020.45], "nice": false, "zero": false}, "axis": {"title": "Year", "values": [1990,1991,1992,1993,1994,1995,1996,1997,1998,1999,2000,2001,2002,2003,2004,2005,2006,2007,2008,2009,2010,2011,2012,2013,2014,2015,2016,2017,2018,2019], "format": "d"}},
"y": {"datum": 5.34, "type": "quantitative", "scale": {"domain": [-0.3, 6.3], "nice": false, "zero": false}, "axis": {"title": "Rate of cancers", "values": [0,1,2,3,4,5,6], "format": "d", "titlePadding": 16}},
"text": {"field": "panel"}}}
]
},
{
"width": 714, "height": 380,
"layer": [
{"data": {"name": "d"},
"transform": [
{"fold": ["TR","ST","PA","OL","NA","LI","LP","LE","LA","KI","ES","CO","CE","BR","BL"], "as": ["code","rate"]},
{"lookup": "code", "from": {"data": {"name": "types"}, "key": "code", "fields": ["cancer_type","k"]}}
],
"mark": {"type": "area", "interpolate": "monotone"},
"encoding": {
"x": {"field": "year", "type": "quantitative", "scale": {"domain": [1988.55, 2020.45], "nice": false, "zero": false}, "axis": {"title": "Year", "values": [1990,1991,1992,1993,1994,1995,1996,1997,1998,1999,2000,2001,2002,2003,2004,2005,2006,2007,2008,2009,2010,2011,2012,2013,2014,2015,2016,2017,2018,2019], "format": "d"}},
"y": {"field": "rate", "type": "quantitative", "stack": "zero", "scale": {"domain": [-6.5, 136.5], "nice": false, "zero": false}, "axis": {"title": "Rate of cancers", "values": [0,10,20,30,40,50,60,70,80,90,100,110,120,130], "format": "d", "titlePadding": 0}},
"color": {"field": "cancer_type", "type": "nominal", "scale": {"domain": ["Bladder cancer","Breast cancer","Cervical cancer","Colon and rectum cancer","Esophageal cancer","Kidney cancer","Larynx cancer","Leukemia","Lip and oral cavity cancer","Liver cancer","Nasopharynx cancer","Other leukemia","Pancreatic cancer","Stomach cancer","Tracheal, bronchus, and lung cancer"], "range": ["#B8860B","#008B00","#E0FFFF","#E066FF","#FFE4C4","#00FFFF","#8B0000","#9FB6CD","#ADFF2F","#FFA500","#36648B","#F08080","#66CDAA","#FFEC8B","#8B3A62"]}, "legend": {"title": "cancer_type", "orient": "none", "legendX": 726, "legendY": 11, "strokeColor": "#444444", "symbolSize": 400, "labelFontSize": 7.8}},
"order": {"field": "k", "type": "quantitative", "sort": "descending"}
}},
{"data": {"values": [{"panel": "d"}]},
"mark": {"type": "text", "align": "left", "baseline": "alphabetic", "fontSize": 22, "fontWeight": "bold", "color": "#000000"},
"encoding": {
"x": {"datum": 1990.6, "type": "quantitative", "scale": {"domain": [1988.55, 2020.45], "nice": false, "zero": false}, "axis": {"title": "Year", "values": [1990,1991,1992,1993,1994,1995,1996,1997,1998,1999,2000,2001,2002,2003,2004,2005,2006,2007,2008,2009,2010,2011,2012,2013,2014,2015,2016,2017,2018,2019], "format": "d"}},
"y": {"datum": 118.4, "type": "quantitative", "scale": {"domain": [-6.5, 136.5], "nice": false, "zero": false}, "axis": {"title": "Rate of cancers", "values": [0,10,20,30,40,50,60,70,80,90,100,110,120,130], "format": "d", "titlePadding": 0}},
"text": {"field": "panel"}}}
]
}
],
"columns": 1, "align": "none", "spacing": 97,
"resolve": {"scale": {"color": "independent", "x": "independent", "y": "independent"}, "legend": {"color": "independent"}}
}
],
"columns": 2, "align": "none", "spacing": 58,
"resolve": {"scale": {"color": "independent", "x": "independent", "y": "independent"}, "legend": {"color": "independent"}},
"config": {
"font": "Liberation Sans",
"view": {"stroke": "#cccccc", "strokeWidth": 1},
"axis": {"grid": false, "domainColor": "#333333", "domainWidth": 1.5, "tickColor": "#333333", "tickSize": 3, "tickWidth": 1, "labelColor": "#808080", "labelFontSize": 7.5, "labelPadding": 2, "titleFontSize": 9.5, "titleFontWeight": "bold", "titleColor": "#1a1a1a"},
"axisX": {"labelAngle": 270, "titlePadding": 4, "labelFlush": false, "labelOverlap": false},
"legend": {"symbolType": "square", "symbolSize": 441, "symbolStrokeWidth": 0, "symbolOpacity": 1, "labelFontSize": 8, "labelColor": "#333333", "titleFontSize": 9.5, "titleFontWeight": "bold", "titleColor": "#111111", "padding": 8, "fillColor": "#ffffff", "rowPadding": 2, "labelOffset": 6, "titlePadding": 7, "labelLimit": 300}
}
}
